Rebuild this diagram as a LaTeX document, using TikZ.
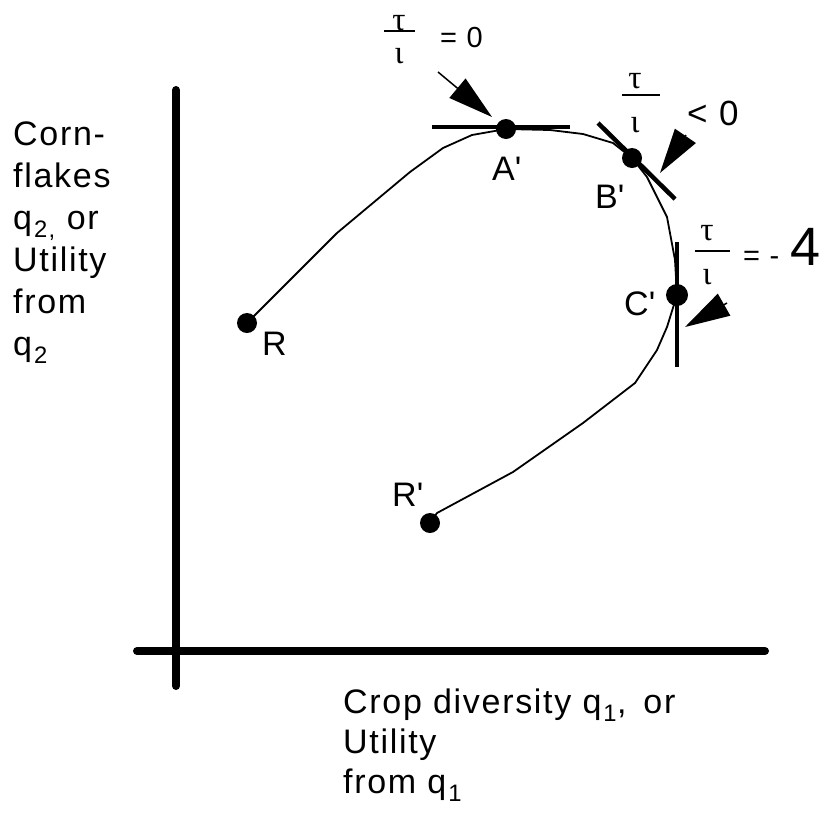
\documentclass[tikz,border=0pt]{standalone}
\usepackage{fontspec}
\setmainfont[LetterSpace=5]{Liberation Sans}
\newfontfamily\greekfont{Liberation Serif}
\usepackage{tikz}
\usetikzlibrary{arrows.meta}
\newcommand{\sbs}[1]{\kern2pt\textsubscript{#1}}
\tikzset{
  % axes, curve and tangent bars
  axln/.style={line width=8pt, line cap=round},
  crv/.style={line width=1.8pt, line join=round},
  tng/.style={line width=4.5pt},
  bar/.style={line width=2pt},
  % chosen points on the curve
  pnt/.style={circle, fill, inner sep=0pt, minimum size=20pt},
  lbl/.style={anchor=base west, inner sep=0pt, font=\fontsize{34}{42}\selectfont},
  % slope labels
  gr/.style={anchor=base, inner sep=0pt, font=\fontsize{33}{34}\greekfont},
  A/.style={-{Triangle[length=45pt,width=25pt]}, line width=1.5pt},
}
\begin{document}
\begin{tikzpicture}[x=1pt, y=-1pt]
\useasboundingbox (0,0) rectangle (830,812);

% ── axes ─────────────────────────────────────────────
\draw[axln] (176,90) -- (176,686);
\draw[axln] (137,651) -- (765,651);

\node[lbl, anchor=north west, align=left] (ylab) at (13,122) {%
  Corn-\\flakes\\q\sbs{2,} or\\Utility\\from\\q\sbs{2}};
\node[lbl, anchor=north west, align=left, font=\fontsize{34}{40}\selectfont]
  (xlab) at (343,689) {%
  Crop diversity q\sbs{1}, \,or\\Utility\\from q\sbs{1}};

% ── points and curve ─────────────────────────────────
\node[pnt] (R)  at (247,323) {};
\node[pnt] (A)  at (506,129) {};
\node[pnt] (B)  at (632,158) {};
\node[pnt, minimum width=18pt, minimum height=22pt] (C) at (677,295) {};
\node[pnt] (Rp) at (430,523) {};

\draw[crv] (R.center) -- (337,233) -- (410,172) -- (443,148) -- (472,135)
  -- (A.center) -- (550,130) -- (583,134) -- (613,143)
  -- (B.center) -- (647,177) -- (667,217) -- (675,260)
  -- (C.center) -- (667,327) -- (657,350) -- (635,383) -- (583,423)
  -- (513,472) -- (437,513) -- (Rp.center);

\node[lbl] (lR)  at (262,355) {R};
\node[lbl] (lRp) at (392,506) {R\textquotesingle};
\node[lbl] (lA)  at (492,180) {A\textquotesingle};
\node[lbl] (lB)  at (595,208) {B\textquotesingle};
\node[lbl] (lC)  at (624,315) {C\textquotesingle};

% ── tangents ─────────────────────────────────────────
\draw[tng] (432,127) -- (570,127);
\draw[tng] (598,123) -- (675,199);
\draw[tng] (677,242) -- (677,367);

% ── slope at A' ──────────────────────────────────────
\node[gr] (tauA) at (399,30) {τ};
\draw[bar] (384,31) -- (415,31);
\node[gr] (iotA) at (399,63) {ι};
\node[lbl, font=\fontsize{29}{30}\selectfont] (eqA) at (440,47) {= 0};
\coordinate (tA) at (438,72);
\coordinate (hA) at (492,117);
\draw[A] (tA) -- (hA);

% ── slope at B' ──────────────────────────────────────
\node[gr] (tauB) at (635,88) {τ};
\draw[bar] (622,95) -- (660,95);
\node[gr] (iotB) at (635,132) {ι};
\node[lbl, font=\fontsize{35}{36}\selectfont] (eqB) at (687,125) {< 0};
\coordinate (tB) at (686,135);
\coordinate (hB) at (660,173);
\draw[A] (tB) -- (hB);

% ── slope at C' ──────────────────────────────────────
\node[gr] (tauC) at (707,240) {τ};
\draw[bar] (695,251) -- (730,251);
\node[gr] (iotC) at (707,284) {ι};
\node[lbl] (eqC) at (743,265) {%
  {\fontsize{29}{30}\selectfont = -} {\fontsize{54}{56}\selectfont 4}};
\coordinate (tC) at (727,303);
\coordinate (hC) at (685,327);
\draw[A] (tC) -- (hC);

\end{tikzpicture}
\end{document}
